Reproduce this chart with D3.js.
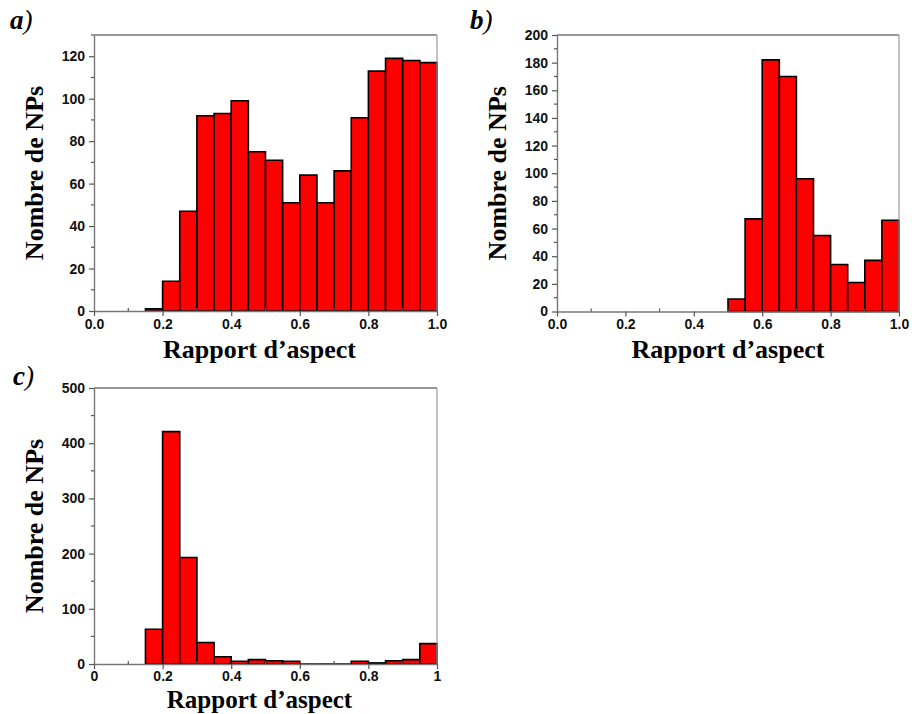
<!DOCTYPE html>
<html><head><meta charset="utf-8">
<script src="https://cdn.jsdelivr.net/npm/d3@7"></script>
<style>body{margin:0;background:#fff}svg{display:block}</style>
</head><body>
<svg id="chart" width="912" height="714"></svg>
<script>
// Bin starts (width 0.05) and counts
const binWidth = 0.05;
const binsA = [0.15,0.20,0.25,0.30,0.35,0.40,0.45,0.50,0.55,0.60,0.65,0.70,0.75,0.80,0.85,0.90,0.95];
const countsA = [1,14,47,92,93,99,75,71,51,64,51,66,91,113,119,118,117];
const binsB = [0.50,0.55,0.60,0.65,0.70,0.75,0.80,0.85,0.90,0.95];
const countsB = [9,67,182,170,96,55,34,21,37,66];
const binsC = [0.15,0.20,0.25,0.30,0.35,0.40,0.45,0.50,0.55,0.60,0.65,0.70,0.75,0.80,0.85,0.90,0.95];
const countsC = [63,421,193,39,13,5,8,6,5,0,0,0,5,2,6,8,37];
const xTicksAB = [0,0.2,0.4,0.6,0.8,1.0];
const xTickLabelsAB = ["0.0","0.2","0.4","0.6","0.8","1.0"];
const xTickLabelsC = ["0","0.2","0.4","0.6","0.8","1"];
const yTicksA = [0,20,40,60,80,100,120];
const yTicksB = [0,20,40,60,80,100,120,140,160,180,200];
const yTicksC = [0,100,200,300,400,500];
const xTitle = "Rapport d\u2019aspect";
const yTitle = "Nombre de NPs";
const panelLabels = ["a", "b", "c"];

const svg = d3.select("#chart");

function panel(o) {
  const x = d3.scaleLinear().domain([0,1]).range([o.l, o.r]);
  const y = d3.scaleLinear().domain([0, o.ymax]).range([o.b, o.t]);
  const g = svg.append("g");

  // bars
  g.selectAll("path.bar").data(o.bins.map((s,i)=>({s, v:o.counts[i]})))
    .enter().append("path").attr("class","bar")
    .attr("d", d => `M${x(d.s)},${y(0)}V${y(d.v)}H${x(d.s+binWidth)}V${y(0)}Z`)
    .attr("fill","#ff0000").attr("stroke","#000").attr("stroke-width",1.6)
    .attr("stroke-linejoin","miter");

  // frame top/right
  g.append("line").attr("x1",o.l).attr("x2",o.r).attr("y1",o.t).attr("y2",o.t)
    .attr("stroke","#333").attr("stroke-width",1.2);
  g.append("line").attr("x1",o.r).attr("x2",o.r).attr("y1",o.t).attr("y2",o.b)
    .attr("stroke","#999").attr("stroke-width",1.2);

  // x axis
  const xa = g.append("g").attr("transform",`translate(0,${o.b})`)
    .call(d3.axisBottom(x).tickValues(xTicksAB).tickFormat((d,i)=>o.xlabels[i]).tickSizeInner(5).tickSizeOuter(0).tickPadding(o.xpad));
  xa.select(".domain").attr("stroke","#777").attr("stroke-width",1.4);
  xa.selectAll(".tick line").attr("stroke","#555").attr("stroke-width",1.2);
  xa.selectAll(".tick text").attr("font-family","Liberation Sans, Arial, sans-serif")
    .attr("font-weight","bold").attr("font-size",14).attr("fill","#111");
  // minor x ticks (inward)
  g.selectAll("line.mx").data([0.1,0.3,0.5,0.7,0.9]).enter().append("line")
    .attr("x1",d=>x(d)).attr("x2",d=>x(d)).attr("y1",o.b).attr("y2",o.b-3)
    .attr("stroke","#555").attr("stroke-width",1.2);

  // y axis
  const ya = g.append("g").attr("transform",`translate(${o.l},0)`)
    .call(d3.axisLeft(y).tickValues(o.yticks).tickFormat(d3.format("d")).tickSizeInner(5).tickSizeOuter(0).tickPadding(4));
  ya.select(".domain").attr("stroke","#777").attr("stroke-width",1.4);
  ya.selectAll(".tick line").attr("stroke","#555").attr("stroke-width",1.2);
  ya.selectAll(".tick text").attr("font-family","Liberation Sans, Arial, sans-serif")
    .attr("font-weight","bold").attr("font-size",14).attr("fill","#111");
  // minor y ticks
  const step = o.yticks[1]-o.yticks[0];
  const minors = o.yticks.slice(0,-1).map(t=>t+step/2).concat(o.ymax>o.yticks[o.yticks.length-1] ? [o.yticks[o.yticks.length-1]+step/2].filter(v=>v<=o.ymax):[]);
  g.selectAll("line.my").data(minors).enter().append("line")
    .attr("x1",o.l).attr("x2",o.l-3).attr("y1",d=>y(d)).attr("y2",d=>y(d))
    .attr("stroke","#555").attr("stroke-width",1.2);

  // titles
  g.append("text").attr("x",(o.l+o.r)/2 + o.xtdx).attr("y",o.b+o.xty)
    .attr("text-anchor","middle").attr("font-family","Liberation Serif, Times New Roman, serif")
    .attr("font-weight","bold").attr("font-size",o.xtfs).attr("fill","#000").text(xTitle);
  g.append("text").attr("transform",`translate(${o.ytx},${(o.t+o.b)/2})rotate(-90)`)
    .attr("text-anchor","middle").attr("font-family","Liberation Serif, Times New Roman, serif")
    .attr("font-weight","bold").attr("font-size",26).attr("fill","#000").text(yTitle);

  // panel label
  const pl = g.append("text").attr("x",o.plx).attr("y",o.ply)
    .attr("font-family","Liberation Serif, Times New Roman, serif").attr("font-size",27).attr("fill","#000");
  pl.append("tspan").attr("font-weight","bold").attr("font-style","italic").text(o.label);
  pl.append("tspan").attr("font-style","italic").text(")");
}

panel({l:94, r:437, t:35, b:311, ymax:130, bins:binsA, counts:countsA, yticks:yTicksA,
  xlabels:xTickLabelsAB, xpad:3, xty:47, xtfs:26, xtdx:-6, ytx:43, plx:10, ply:29, label:panelLabels[0]});
panel({l:557, r:899, t:35, b:311.5, ymax:200, bins:binsB, counts:countsB, yticks:yTicksB,
  xlabels:xTickLabelsAB, xpad:3, xty:46, xtfs:26, xtdx:0, ytx:506, plx:470, ply:29, label:panelLabels[1]});
panel({l:94, r:437, t:388, b:664, ymax:500, bins:binsC, counts:countsC, yticks:yTicksC,
  xlabels:xTickLabelsC, xpad:2, xty:44, xtfs:25, xtdx:-6, ytx:43, plx:13, ply:385, label:panelLabels[2]});
</script>
</body></html>
